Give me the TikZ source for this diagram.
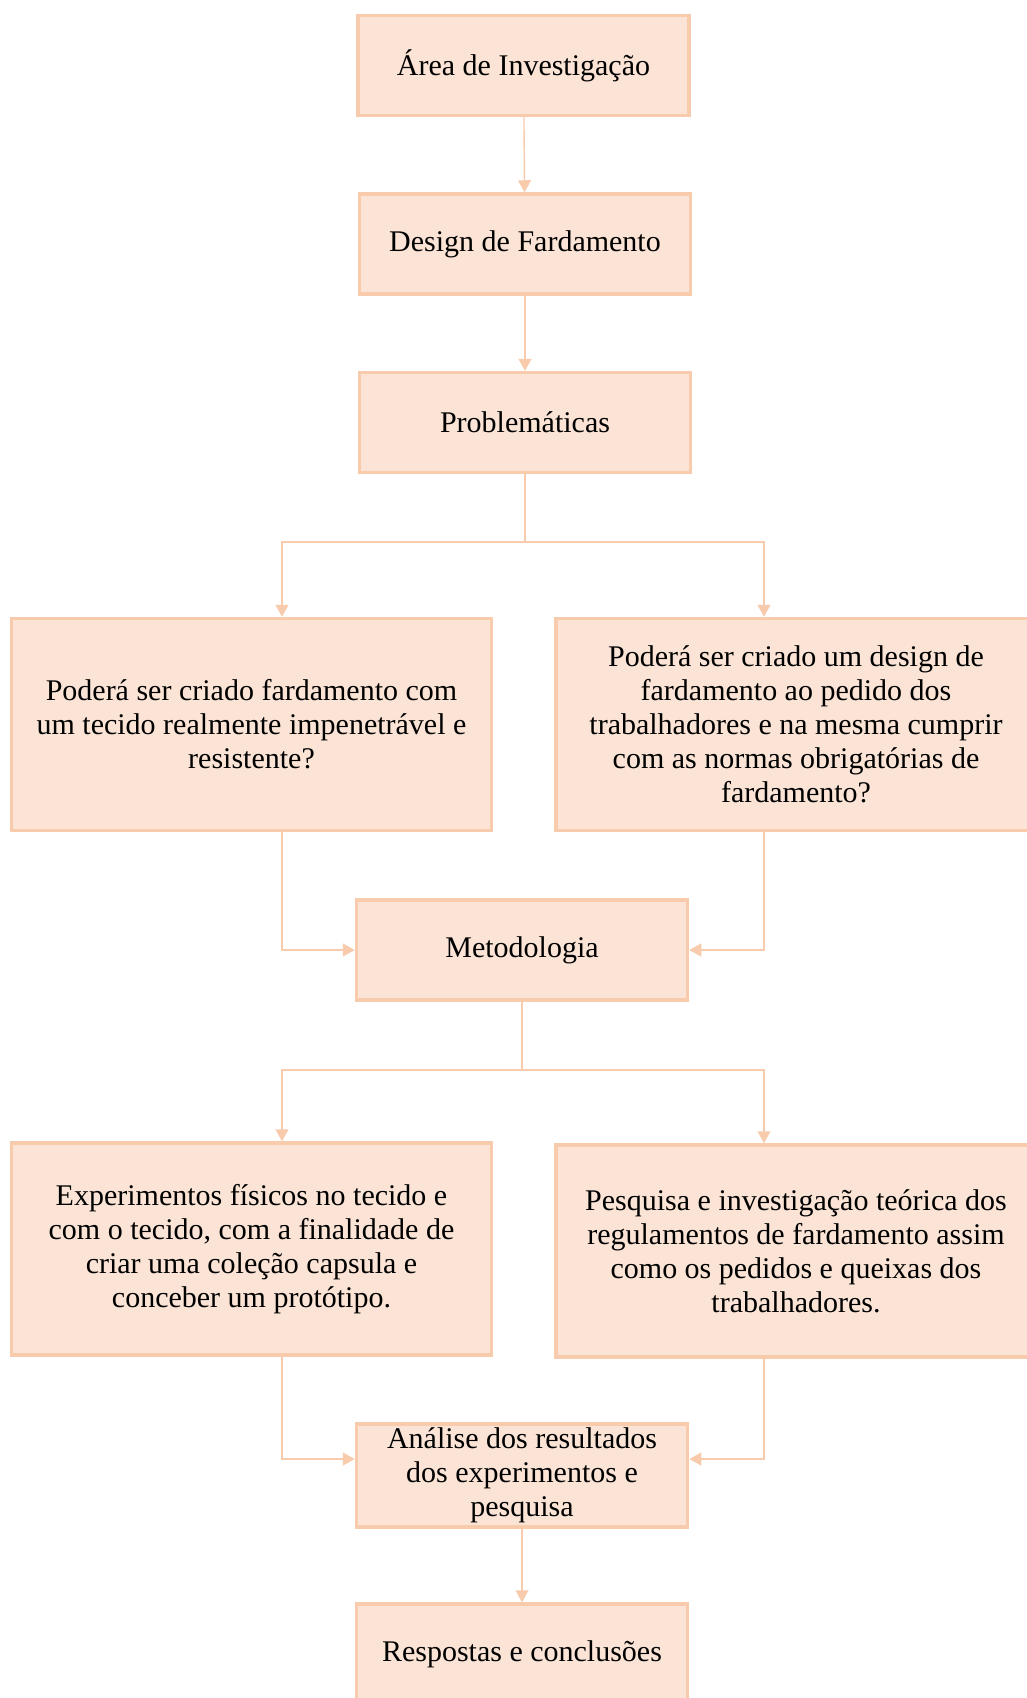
\documentclass[tikz,border=0pt]{standalone}
\usepackage{fontspec}
\setmainfont{Liberation Serif}
\usetikzlibrary{arrows.meta,calc}
\definecolor{boxfill}{HTML}{FBE4D5}
\definecolor{boxline}{HTML}{F8CBAD}
\tikzset{
  box/.style={draw=boxline, fill=boxfill, line width=3.5pt, align=center, inner sep=0pt,
    font=\fontsize{30}{34}\selectfont, minimum width=331pt, minimum height=100pt},
  bigbox/.style={box, minimum width=480pt, minimum height=212pt},
  conn/.style={draw=boxline, line width=1.4pt, -{Triangle[width=13pt,length=12pt]}}
}
\begin{document}
\begin{tikzpicture}[x=1pt,y=-1pt]
                \useasboundingbox (0,0) rectangle (1027,1698);
                \node[box] (area) at (523.5,65.5) {Área de Investigação};
                \node[box] (design) at (525,244) {Design de Fardamento};
                \node[box] (probl) at (525,422.5) {Problemáticas};
                \node[bigbox] (q1) at (251.5,724.5) {Poderá ser criado fardamento com\\ um tecido realmente impenetrável e\\ resistente?};
                \node[bigbox] (q2) at (796,724.5) {Poderá ser criado um design de\\ fardamento ao pedido dos\\ trabalhadores e na mesma cumprir\\ com as normas obrigatórias de\\ fardamento?};
                \node[box] (metod) at (522,950) {Metodologia};
                \node[bigbox] (exper) at (251.5,1249) {Experimentos físicos no tecido e\\ com o tecido, com a finalidade de\\ criar uma coleção capsula e\\ conceber um protótipo.};
                \node[bigbox] (pesq) at (796,1251) {Pesquisa e investigação teórica dos\\ regulamentos de fardamento assim\\ como os pedidos e queixas dos\\ trabalhadores.};
                \node[box, minimum height=103pt] (analise) at (522,1475.5) {Análise dos resultados\\ dos experimentos e\\ pesquisa};
                \node[box] (resp) at (522,1654) {Respostas e conclusões};

                \coordinate (lcol) at (282,0);
                \coordinate (rcol) at (764,0);
                \coordinate (split1) at (525,542);
                \coordinate (split2) at (522,1070);
                \coordinate (ain) at (0,1459);

                \draw[conn] (area) -- (design);
                \draw[conn] (design) -- (probl);
                \draw[conn] (probl.south) -- (split1) -| (q1.north -| lcol);
                \draw[conn] (split1) -| (q2.north -| rcol);
                \draw[conn] (q1.south -| lcol) |- (metod.west);
                \draw[conn] (q2.south -| rcol) |- (metod.east);
                \draw[conn] (metod.south) -- (split2) -| (exper.north -| lcol);
                \draw[conn] (split2) -| (pesq.north -| rcol);
                \draw[conn] (exper.south -| lcol) |- (analise.west |- ain);
                \draw[conn] (pesq.south -| rcol) |- (analise.east |- ain);
                \draw[conn] (analise) -- (resp);
\end{tikzpicture}
\end{document}
